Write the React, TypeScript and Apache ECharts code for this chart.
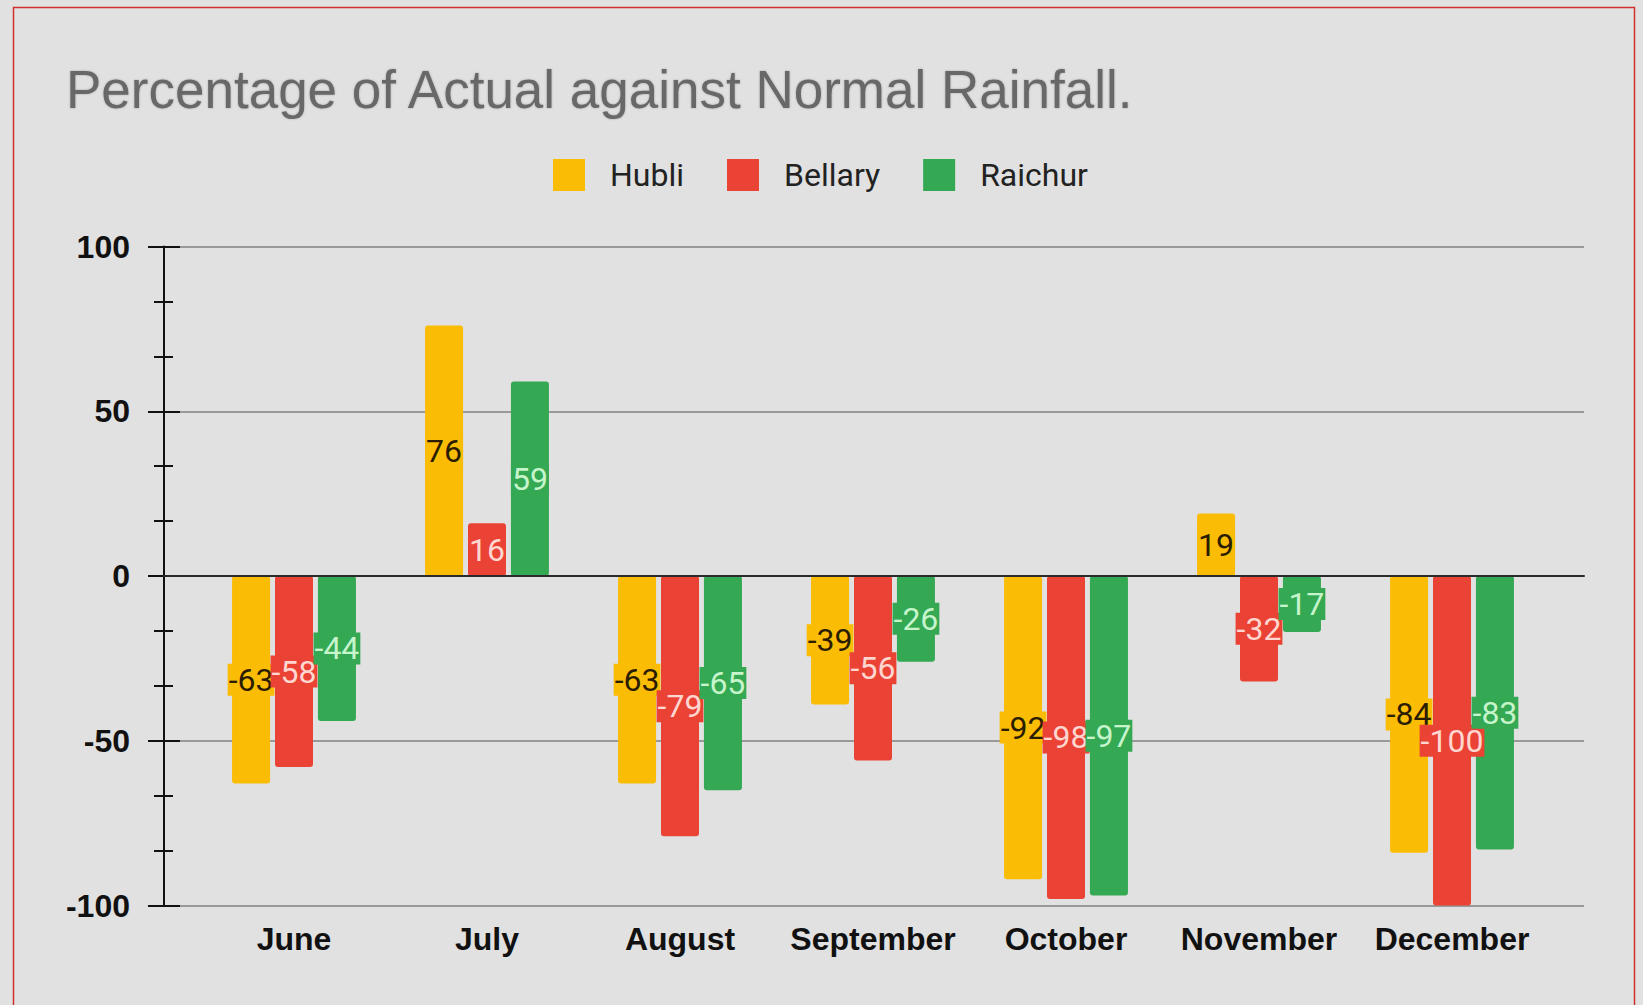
import React, { useEffect, useRef } from "react";
import * as echarts from "echarts";

const months = ["June", "July", "August", "September", "October", "November", "December"];
const hubli = [-63, 76, -63, -39, -92, 19, -84];
const bellary = [-58, 16, -79, -56, -98, -32, -100];
const raichur = [-44, 59, -65, -26, -97, -17, -83];
const seriesNames = ["Hubli", "Bellary", "Raichur"];
const seriesColors = ["#FBBC05", "#EA4335", "#34A853"];
const labelColors = ["#2b1d00", "#ffd6d0", "#c6f5cc"];
const yMin = -100;
const yMax = 100;
const yInterval = 50;

export default function App() {
  const ref = useRef<HTMLDivElement>(null);
  useEffect(() => {
    document.body.style.margin = "0";
    document.body.style.background = "#e1e1e1";
    const chart = echarts.init(ref.current!, undefined, { renderer: "svg" });
    const values = [hubli, bellary, raichur];
    const axisColor = "#111";
    chart.setOption({
      animation: false,
      backgroundColor: "#e1e1e1",
      title: {
        text: "Percentage of Actual against Normal Rainfall.",
        left: 66,
        top: 63,
        padding: 0,
        textStyle: {
          fontFamily: "Liberation Sans, Arial, sans-serif",
          fontSize: 53,
          fontWeight: "normal",
          color: "#686868",
          textShadowColor: "rgba(0,0,0,0.25)",
          textShadowBlur: 2,
        },
      },
      legend: {
        data: seriesNames,
        left: 553,
        top: 159,
        padding: 0,
        icon: "rect",
        itemWidth: 32,
        itemHeight: 32,
        itemGap: 43,
        textStyle: {
          fontFamily: "Roboto, Arial, sans-serif",
          fontSize: 32,
          color: "#222",
          padding: [0, 0, 0, 20],
        },
      },
      graphic: [
        {
          type: "rect",
          shape: { x: 13.5, y: 7.5, width: 1621, height: 1020 },
          style: { fill: "none", stroke: "#d0302f", lineWidth: 1.5 },
          silent: true,
          z: 100,
        },
      ],
      grid: [
        { left: 164, right: 59, top: 246.5, bottom: 99.5 },
        { left: 197.5, right: 94.5, top: 246.5, bottom: 99.5 },
      ],
      xAxis: [
        {
          gridIndex: 0,
          type: "value",
          min: 0,
          max: 1,
          axisLine: { show: true, onZero: true, lineStyle: { color: "#2a2a2a", width: 2 } },
          axisTick: { show: false },
          axisLabel: { show: false },
          splitLine: { show: false },
          z: 6,
        },
        {
          gridIndex: 1,
          type: "category",
          data: months,
          axisLine: { show: false, onZero: false },
          axisTick: { show: false },
          axisLabel: {
            interval: 0,
            margin: 17,
            fontSize: 32,
            fontWeight: "bold",
            color: axisColor,
            fontFamily: "Liberation Sans, Arial, sans-serif",
          },
          splitLine: { show: false },
        },
      ],
      yAxis: [
        {
          gridIndex: 0,
          type: "value",
          position: "left",
          min: yMin,
          max: yMax,
          interval: yInterval,
          axisLine: { show: true, onZero: false, lineStyle: { color: axisColor, width: 2 } },
          axisTick: { show: true, length: 16, inside: false, lineStyle: { color: axisColor, width: 2 } },
          minorTick: { show: true, splitNumber: 3, length: 10, lineStyle: { color: axisColor, width: 2 } },
          axisLabel: {
            margin: 34,
            fontSize: 32,
            fontWeight: "bold",
            color: axisColor,
            fontFamily: "Liberation Sans, Arial, sans-serif",
          },
          splitLine: { show: true, lineStyle: { color: "#999999", width: 2 } },
          z: 3,
        },
        {
          gridIndex: 0,
          type: "value",
          position: "left",
          min: yMin,
          max: yMax,
          interval: yInterval,
          axisLine: { show: false, onZero: false },
          axisTick: { show: true, length: 16, inside: true, lineStyle: { color: axisColor, width: 2 } },
          minorTick: { show: true, splitNumber: 3, length: 9, lineStyle: { color: axisColor, width: 2 } },
          axisLabel: { show: false },
          splitLine: { show: false },
          z: 4,
        },
        {
          gridIndex: 1,
          type: "value",
          min: yMin,
          max: yMax,
          interval: yInterval,
          show: false,
        },
      ],
      series: seriesNames.map((name, i) => ({
        name,
        type: "bar",
        xAxisIndex: 1,
        yAxisIndex: 2,
        data: values[i],
        barWidth: 38,
        barGap: "13%",
        itemStyle: { color: seriesColors[i], borderRadius: 3 },
        label: {
          show: true,
          position: "inside",
          fontFamily: "Roboto, Arial, sans-serif",
          fontSize: 32,
          color: labelColors[i],
          backgroundColor: seriesColors[i],
          padding: [0, 1],
        },
        z: 5,
      })),
    });
    return () => chart.dispose();
  }, []);
  return (
    <div
      ref={ref}
      style={{ position: "absolute", left: 0, top: 0, width: 1643, height: 1005 }}
    />
  );
}
